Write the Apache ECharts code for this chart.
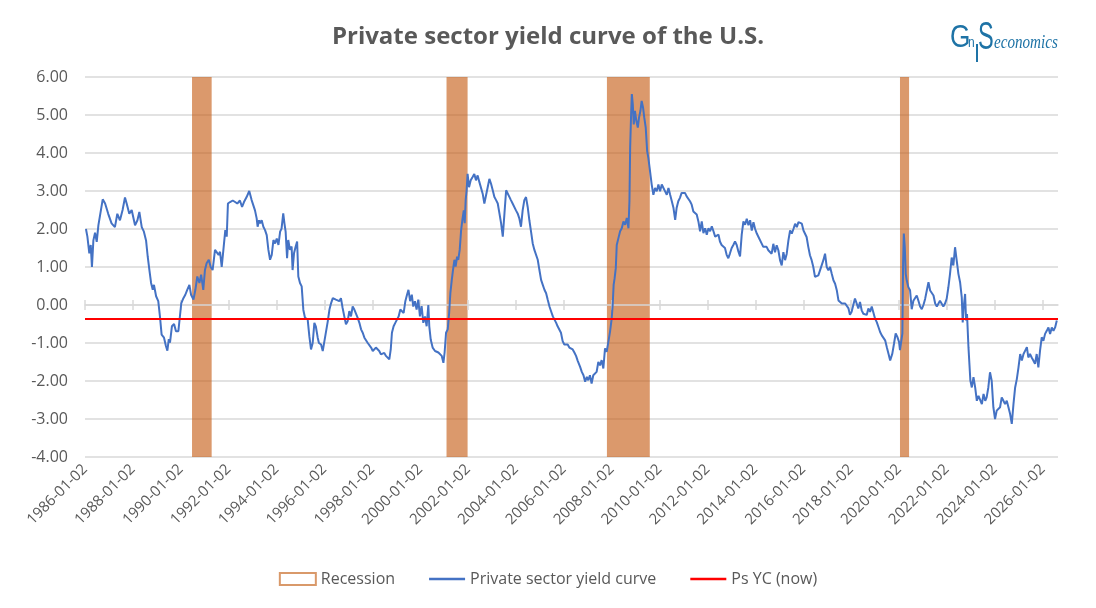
<!DOCTYPE html>
<html>
<head>
<meta charset="utf-8">
<title>Private sector yield curve of the U.S.</title>
<script src="https://cdn.jsdelivr.net/npm/echarts@6/dist/echarts.min.js"></script>
<style>
  html, body { margin: 0; padding: 0; background: #fff; }
  #chart { width: 1096px; height: 608px; }
</style>
</head>
<body>
<div id="chart"></div>
<script>
// recession periods (decimal years, start / end)
const recessions = [
  [1990.47, 1991.29],
  [2001.10, 2001.98],
  [2007.80, 2009.59],
  [2020.04, 2020.42]
];

// x labels every 2 years
const tickYears = [1986, 1988, 1990, 1992, 1994, 1996, 1998, 2000, 2002, 2004, 2006,
  2008, 2010, 2012, 2014, 2016, 2018, 2020, 2022, 2024, 2026];

const xMin = 1986;
const xMax = 2026.64;
const yMin = -4;
const yMax = 6;

// current private sector yield curve level
const psNow = -0.37;

// private sector yield curve, [decimal year, value]
const yieldCurve = [
  // 1986 - 1992
  [1986.04, 2.0], [1986.10, 1.8], [1986.18, 1.36], [1986.24, 1.58], [1986.29, 1.0], [1986.35, 1.7],
  [1986.42, 1.9], [1986.49, 1.66], [1986.56, 2.1], [1986.63, 2.05], [1986.74, 2.78], [1986.84, 2.67],
  [1986.97, 2.4], [1987.11, 2.15], [1987.25, 2.05], [1987.35, 2.4], [1987.46, 2.23], [1987.57, 2.5],
  [1987.67, 2.83], [1987.74, 2.67], [1987.85, 2.4], [1987.95, 2.5], [1988.09, 2.1], [1988.19, 2.23],
  [1988.27, 2.45], [1988.37, 2.05], [1988.46, 1.93], [1988.55, 1.7], [1988.62, 1.27], [1988.69, 0.92],
  [1988.76, 0.58], [1988.83, 0.4], [1988.88, 0.53], [1988.97, 0.23], [1989.06, 0.1], [1989.13, -0.3],
  [1989.20, -0.78], [1989.30, -0.86], [1989.38, -1.08], [1989.44, -1.2], [1989.50, -0.9], [1989.55, -0.99],
  [1989.63, -0.56], [1989.72, -0.5], [1989.80, -0.69], [1989.90, -0.69], [1989.97, -0.64], [1990.02, 0.04],
  [1990.11, 0.18], [1990.19, 0.27], [1990.27, 0.4], [1990.36, 0.53], [1990.43, 0.27], [1990.53, 0.14],
  [1990.61, 0.4], [1990.69, 0.75], [1990.78, 0.58], [1990.85, 0.8], [1990.94, 0.4], [1991.01, 0.92],
  [1991.08, 1.1], [1991.17, 1.19], [1991.25, 1.0], [1991.33, 0.92], [1991.43, 1.45], [1991.50, 1.5],
  [1991.58, 1.32], [1991.64, 1.4], [1991.71, 1.0], [1991.78, 1.45], [1991.86, 1.97], [1991.92, 1.8],
  [1991.97, 2.67], [1992.06, 2.71], [1992.17, 2.75], [1992.27, 2.71], [1992.36, 2.67], [1992.47, 2.75],
  [1992.56, 2.58], [1992.64, 2.71], [1992.75, 2.84], [1992.86, 3.0],
  // 1993 - 1999
  [1992.89, 2.97], [1992.96, 2.76], [1993.03, 2.71], [1993.10, 2.49], [1993.17, 2.28], [1993.21, 2.06],
  [1993.27, 2.23], [1993.32, 2.15], [1993.38, 2.23], [1993.45, 2.06], [1993.52, 1.97], [1993.59, 1.84],
  [1993.66, 1.45], [1993.73, 1.19], [1993.80, 1.32], [1993.87, 1.71], [1993.94, 1.62], [1994.01, 1.75],
  [1994.08, 1.58], [1994.15, 1.93], [1994.21, 2.01], [1994.28, 2.41], [1994.33, 2.15], [1994.38, 1.93],
  [1994.44, 1.23], [1994.49, 1.71], [1994.56, 1.45], [1994.63, 1.54], [1994.67, 0.92], [1994.73, 1.36],
  [1994.80, 1.54], [1994.86, 1.67], [1994.91, 0.75], [1994.98, 0.58], [1995.05, 0.49], [1995.12, -0.13],
  [1995.19, -0.34], [1995.30, -0.38], [1995.37, -0.82], [1995.44, -1.17], [1995.51, -1.0], [1995.58, -0.47],
  [1995.64, -0.56], [1995.72, -0.86], [1995.77, -1.0], [1995.86, -1.04], [1995.93, -1.21], [1996.00, -0.95],
  [1996.07, -1.0], [1996.14, -0.43], [1996.21, -0.12], [1996.28, 0.05], [1996.35, 0.18], [1996.42, 0.23],
  [1996.48, 0.14], [1996.55, 0.18], [1996.62, 0.1], [1996.69, 0.18], [1996.76, -0.08], [1996.83, -0.3],
  [1996.90, -0.51], [1996.97, -0.43], [1997.04, -0.16], [1997.11, -0.3], [1997.18, -0.04], [1997.25, -0.12],
  [1997.32, -0.16], [1997.39, -0.34], [1997.46, -0.47], [1997.53, -0.64], [1997.60, -0.73], [1997.67, -0.86],
  [1997.74, -0.86], [1997.81, -1.0], [1997.88, -1.04], [1997.95, -1.12], [1998.02, -1.21], [1998.09, -1.17],
  [1998.15, -1.12], [1998.22, -1.08], [1998.29, -1.21], [1998.36, -1.3], [1998.43, -1.34], [1998.50, -1.26],
  [1998.57, -1.34], [1998.64, -1.34], [1998.71, -1.43], [1998.77, -1.17], [1998.82, -0.73], [1998.89, -0.56],
  [1998.96, -0.47], [1999.03, -0.43], [1999.10, -0.3], [1999.17, -0.12], [1999.24, -0.16], [1999.31, -0.21],
  [1999.38, 0.1], [1999.45, 0.27], [1999.51, 0.4], [1999.58, 0.1], [1999.65, 0.27], [1999.71, -0.04],
  [1999.78, 0.1],
  // 2000 - 2006
  [1999.85, -0.12], [1999.92, 0.14], [1999.99, -0.3], [2000.06, -0.03], [2000.13, -0.47], [2000.20, -0.3],
  [2000.27, -0.56], [2000.34, 0.0], [2000.38, -0.56], [2000.44, -0.91], [2000.52, -1.12], [2000.62, -1.21],
  [2000.69, -1.17], [2000.76, -1.25], [2000.83, -1.21], [2000.90, -1.34], [2000.97, -1.52], [2001.02, -1.25],
  [2001.08, -0.73], [2001.15, -0.64], [2001.21, -0.21], [2001.26, 0.31], [2001.32, 0.66], [2001.37, 0.92],
  [2001.43, 1.19], [2001.48, 1.01], [2001.54, 1.27], [2001.59, 1.19], [2001.65, 1.45], [2001.71, 1.97],
  [2001.76, 2.23], [2001.82, 2.49], [2001.86, 2.15], [2001.90, 2.76], [2001.94, 3.02], [2001.98, 3.45],
  [2002.04, 3.1], [2002.11, 3.28], [2002.19, 3.37], [2002.26, 3.45], [2002.33, 3.28], [2002.40, 3.41],
  [2002.47, 3.24], [2002.54, 3.19], [2002.61, 2.93], [2002.68, 2.67], [2002.75, 2.63], [2002.82, 3.1],
  [2002.89, 3.32], [2002.96, 3.19], [2003.03, 3.02], [2003.10, 2.84], [2003.17, 2.76], [2003.24, 2.67],
  [2003.31, 2.41], [2003.38, 2.15], [2003.45, 1.8], [2003.52, 2.41], [2003.59, 3.02], [2003.66, 3.06],
  [2003.73, 2.84], [2003.79, 2.76], [2003.86, 2.67], [2003.93, 2.63], [2004.00, 2.49], [2004.07, 2.41],
  [2004.14, 2.28], [2004.21, 2.06], [2004.28, 2.49], [2004.35, 2.76], [2004.42, 2.84], [2004.49, 2.58],
  [2004.56, 2.23], [2004.63, 1.93], [2004.70, 1.62], [2004.77, 1.45], [2004.84, 1.4], [2004.91, 1.19],
  [2004.98, 0.92], [2005.05, 0.66], [2005.12, 0.53], [2005.19, 0.4], [2005.26, 0.31], [2005.33, 0.13],
  [2005.40, -0.04], [2005.47, -0.17], [2005.54, -0.3], [2005.61, -0.3], [2005.68, -0.47], [2005.74, -0.56],
  [2005.81, -0.6], [2005.88, -0.73], [2005.95, -0.95], [2006.02, -1.04], [2006.09, -1.08], [2006.16, -1.04],
  [2006.23, -1.12], [2006.30, -1.08], [2006.37, -1.17], [2006.44, -1.25], [2006.51, -1.34], [2006.58, -1.47],
  // 2006 - 2013
  [2006.68, -1.63], [2006.75, -1.76], [2006.82, -1.85], [2006.89, -2.02], [2006.96, -1.89], [2007.02, -1.98],
  [2007.09, -1.85], [2007.16, -2.07], [2007.23, -1.85], [2007.30, -1.89], [2007.37, -1.76], [2007.44, -1.5],
  [2007.51, -1.59], [2007.58, -1.45], [2007.65, -1.67], [2007.72, -1.14], [2007.79, -1.23], [2007.86, -0.97],
  [2007.93, -0.7], [2008.00, -0.35], [2008.04, 0.0], [2008.08, 0.53], [2008.12, 0.7], [2008.17, 0.97],
  [2008.21, 1.58], [2008.28, 1.76], [2008.35, 1.94], [2008.42, 2.02], [2008.49, 2.2], [2008.56, 2.11],
  [2008.63, 2.29], [2008.70, 2.02], [2008.74, 2.73], [2008.77, 4.14], [2008.81, 5.02], [2008.84, 5.55],
  [2008.88, 5.28], [2008.92, 4.75], [2008.97, 5.11], [2009.03, 4.84], [2009.09, 4.67], [2009.14, 4.93],
  [2009.20, 5.11], [2009.25, 5.37], [2009.31, 5.19], [2009.36, 4.93], [2009.42, 4.67], [2009.48, 4.05],
  [2009.53, 3.87], [2009.60, 3.52], [2009.67, 3.17], [2009.74, 2.9], [2009.81, 3.08], [2009.88, 2.99],
  [2009.95, 3.17], [2010.02, 2.99], [2010.09, 3.17], [2010.16, 3.08], [2010.23, 2.99], [2010.30, 2.9],
  [2010.37, 3.08], [2010.44, 2.9], [2010.51, 2.73], [2010.58, 2.55], [2010.65, 2.24], [2010.71, 2.55],
  [2010.78, 2.73], [2010.85, 2.82], [2010.92, 2.95], [2010.99, 2.99], [2011.06, 2.95], [2011.13, 2.86],
  [2011.20, 2.82], [2011.27, 2.73], [2011.34, 2.64], [2011.41, 2.46], [2011.48, 2.51], [2011.55, 2.38],
  [2011.62, 2.2], [2011.69, 1.94], [2011.76, 2.2], [2011.83, 1.89], [2011.90, 2.02], [2011.97, 1.85],
  [2012.04, 2.02], [2012.11, 1.94], [2012.18, 2.07], [2012.25, 1.94], [2012.32, 1.8], [2012.39, 1.76],
  [2012.46, 1.85], [2012.52, 1.67], [2012.59, 1.58], [2012.66, 1.63], [2012.73, 1.5], [2012.80, 1.32],
  [2012.87, 1.23], [2012.94, 1.36], [2013.01, 1.5], [2013.08, 1.58], [2013.15, 1.67], [2013.22, 1.58],
  [2013.29, 1.41], [2013.36, 1.28], [2013.43, 1.85], [2013.50, 2.2], [2013.57, 2.11],
  // 2013 - 2020
  [2013.64, 2.27], [2013.71, 2.1], [2013.78, 2.23], [2013.85, 1.96], [2013.92, 2.18], [2013.99, 2.0],
  [2014.06, 1.88], [2014.13, 1.79], [2014.20, 1.83], [2014.27, 1.61], [2014.33, 1.53], [2014.40, 1.48],
  [2014.47, 1.53], [2014.54, 1.44], [2014.61, 1.44], [2014.68, 1.35], [2014.75, 1.61], [2014.82, 1.39],
  [2014.89, 1.57], [2014.96, 1.44], [2015.03, 1.18], [2015.10, 1.04], [2015.17, 1.39], [2015.24, 1.18],
  [2015.31, 1.35], [2015.38, 1.7], [2015.45, 1.96], [2015.52, 1.88], [2015.59, 2.0], [2015.66, 2.14],
  [2015.73, 2.05], [2015.80, 2.18], [2015.87, 2.23], [2015.94, 2.14], [2016.01, 1.96], [2016.08, 1.92],
  [2016.14, 1.79], [2016.21, 1.53], [2016.28, 1.31], [2016.35, 1.18], [2016.42, 1.0], [2016.49, 0.74],
  [2016.56, 0.69], [2016.63, 0.78], [2016.70, 0.91], [2016.77, 0.87], [2016.84, 1.18], [2016.91, 1.35],
  [2016.98, 1.0], [2017.05, 0.91], [2017.12, 1.0], [2017.19, 0.82], [2017.26, 0.65], [2017.33, 0.56],
  [2017.40, 0.39], [2017.47, 0.12], [2017.54, 0.08], [2017.61, 0.04], [2017.68, 0.08], [2017.75, 0.04],
  [2017.82, 0.0], [2017.89, -0.09], [2017.95, -0.26], [2018.02, -0.18], [2018.09, 0.0], [2018.16, 0.17],
  [2018.23, 0.12], [2018.30, -0.09], [2018.37, 0.08], [2018.44, -0.14], [2018.51, -0.23], [2018.58, -0.18],
  [2018.65, -0.26], [2018.72, -0.09], [2018.79, -0.18], [2018.86, -0.04], [2018.93, 0.0], [2019.00, -0.36],
  [2019.07, -0.45], [2019.14, -0.58], [2019.21, -0.71], [2019.28, -0.8], [2019.35, -0.84], [2019.42, -0.93],
  [2019.49, -1.11], [2019.56, -1.28], [2019.63, -1.46], [2019.67, -1.5], [2019.72, -1.28], [2019.79, -1.02],
  [2019.86, -0.75], [2019.93, -0.84], [2020.00, -0.97], [2020.04, -1.19], [2020.10, -1.19], [2020.14, -0.75],
  [2020.17, 1.09], [2020.20, 1.88], [2020.24, 1.53], [2020.28, 0.82], [2020.32, 0.65], [2020.39, 0.47],
  [2020.46, 0.39],
  // 2020 - 2026
  [2020.53, -0.11], [2020.60, 0.11], [2020.67, 0.16], [2020.74, 0.25], [2020.81, 0.11], [2020.88, -0.04],
  [2020.95, -0.11], [2021.02, 0.0], [2021.09, 0.16], [2021.16, 0.38], [2021.23, 0.6], [2021.30, 0.38],
  [2021.37, 0.42], [2021.44, 0.25], [2021.51, 0.04], [2021.58, -0.04], [2021.65, 0.0], [2021.71, 0.11],
  [2021.78, 0.16], [2021.85, -0.04], [2021.92, 0.04], [2021.99, 0.16], [2022.06, 0.46], [2022.13, 0.82],
  [2022.20, 1.25], [2022.27, 1.04], [2022.34, 1.52], [2022.41, 1.17], [2022.48, 0.82], [2022.55, 0.6],
  [2022.62, 0.2], [2022.66, -0.46], [2022.70, -0.06], [2022.76, 0.29], [2022.80, -0.41], [2022.84, -0.24],
  [2022.90, -1.11], [2022.94, -1.55], [2022.98, -1.99], [2023.04, -2.17], [2023.11, -1.9], [2023.18, -2.17],
  [2023.25, -2.52], [2023.32, -2.39], [2023.39, -2.43], [2023.46, -2.61], [2023.53, -2.34], [2023.60, -2.52],
  [2023.66, -2.43], [2023.73, -2.17], [2023.80, -1.77], [2023.87, -1.99], [2023.94, -2.69], [2024.01, -3.0],
  [2024.08, -2.78], [2024.15, -2.82], [2024.22, -2.69], [2024.29, -2.43], [2024.36, -2.52], [2024.43, -2.61],
  [2024.50, -2.52], [2024.57, -2.69], [2024.64, -2.87], [2024.71, -3.13], [2024.78, -2.61], [2024.85, -2.17],
  [2024.92, -1.95], [2024.99, -1.64], [2025.06, -1.29], [2025.13, -1.46], [2025.20, -1.29], [2025.27, -1.2],
  [2025.34, -1.11], [2025.40, -1.38], [2025.47, -1.29], [2025.54, -1.38], [2025.61, -1.46], [2025.68, -1.55],
  [2025.75, -1.29], [2025.82, -1.64], [2025.89, -1.2], [2025.96, -0.85], [2026.03, -0.94], [2026.10, -0.76],
  [2026.17, -0.68], [2026.24, -0.59], [2026.31, -0.76], [2026.38, -0.59], [2026.45, -0.68], [2026.52, -0.59],
  [2026.59, -0.41]
];

const txt = '#595959';
const grey = '#D9D9D9';
const font = 'Open Sans';
const logoBlue = '#1E73A6';
const lineIcon = 'path://M0,0H36V2.4H0Z';

const chart = echarts.init(document.getElementById('chart'));

// zero line with crossing ticks (excel style horizontal axis)
const zeroAxis = (inside) => ({
  type: 'value', min: xMin, max: xMax, position: 'bottom', z: 3,
  axisLine: { show: !inside, onZero: true, onZeroAxisIndex: 0, lineStyle: { color: grey, width: 1.5 } },
  axisTick: { show: true, inside: inside, customValues: tickYears, length: 5, lineStyle: { color: grey, width: 1.5 } },
  axisLabel: { show: false },
  splitLine: { show: false }
});

const option = {
  animation: false,
  backgroundColor: '#fff',
  textStyle: { fontFamily: font },
  title: {
    text: 'Private sector yield curve of the U.S.',
    left: 'center',
    top: 20,
    textStyle: { fontFamily: font, fontSize: 24, fontWeight: 'bold', color: txt }
  },
  grid: { left: 85, right: 38, top: 77, bottom: 151 },
  legend: {
    top: 566,
    left: 'center',
    itemWidth: 36,
    itemHeight: 12,
    itemGap: 34,
    textStyle: { color: txt, fontSize: 16, fontFamily: font },
    data: [
      { name: 'Recession', icon: 'rect', itemStyle: { color: '#fff', borderColor: '#D9996A', borderWidth: 2 } },
      { name: 'Private sector yield curve', icon: lineIcon, itemStyle: { color: '#4472C4' } },
      { name: 'Ps YC (now)', icon: lineIcon, itemStyle: { color: '#FF0000' } }
    ]
  },
  xAxis: [
    {
      type: 'value', min: xMin, max: xMax, position: 'bottom',
      axisLine: { show: false, onZero: false },
      axisTick: { show: false },
      splitLine: { show: false },
      axisLabel: {
        customValues: tickYears,
        rotate: 45,
        margin: 10,
        color: txt,
        fontSize: 15,
        fontFamily: font,
        formatter: v => v + '-01-02'
      }
    },
    zeroAxis(false),
    zeroAxis(true)
  ],
  yAxis: {
    type: 'value', min: yMin, max: yMax, interval: 1,
    axisLine: { show: false },
    axisTick: { show: false },
    splitLine: { lineStyle: { color: grey, width: 1.5 } },
    axisLabel: { color: txt, fontSize: 16, margin: 17, fontFamily: font, formatter: v => v.toFixed(2) }
  },
  series: [
    {
      name: 'Recession',
      type: 'custom',
      z: 1,
      silent: true,
      data: recessions,
      encode: { x: [0, 1] },
      renderItem: (params, api) => {
        const p0 = api.coord([api.value(0), yMax]);
        const p1 = api.coord([api.value(1), yMin]);
        return {
          type: 'rect',
          shape: { x: p0[0], y: p0[1], width: p1[0] - p0[0], height: p1[1] - p0[1] },
          style: { fill: 'rgba(197,90,17,0.62)' }
        };
      }
    },
    {
      name: 'Private sector yield curve',
      type: 'line',
      z: 4,
      data: yieldCurve,
      symbol: 'none',
      itemStyle: { color: '#4472C4' },
      lineStyle: { color: '#4472C4', width: 2 }
    },
    {
      name: 'Ps YC (now)',
      type: 'line',
      z: 5,
      data: [[xMin, psNow], [xMax, psNow]],
      symbol: 'none',
      itemStyle: { color: '#FF0000' },
      lineStyle: { color: '#FF0000', width: 2 }
    }
  ],
  // GnS economics logo
  graphic: [
    { type: 'text', x: 950, y: 38, scaleX: 0.82,
      style: { text: 'G', font: '32px "Liberation Sans"', fill: logoBlue, verticalAlign: 'middle' } },
    { type: 'text', x: 968, y: 43, scaleX: 0.8,
      style: { text: 'n', font: '15px "Liberation Sans"', fill: logoBlue, verticalAlign: 'middle' } },
    { type: 'line', shape: { x1: 977, y1: 44, x2: 977, y2: 62 }, style: { stroke: logoBlue, lineWidth: 2 } },
    { type: 'text', x: 978, y: 39, scaleX: 0.62,
      style: { text: 'S', font: '38px "Liberation Sans"', fill: logoBlue, verticalAlign: 'middle' } },
    { type: 'text', x: 994, y: 43, scaleX: 0.84,
      style: { text: 'economics', font: 'italic 18px "Liberation Serif"', fill: logoBlue, verticalAlign: 'middle' } }
  ]
};

chart.setOption(option);
</script>
</body>
</html>
